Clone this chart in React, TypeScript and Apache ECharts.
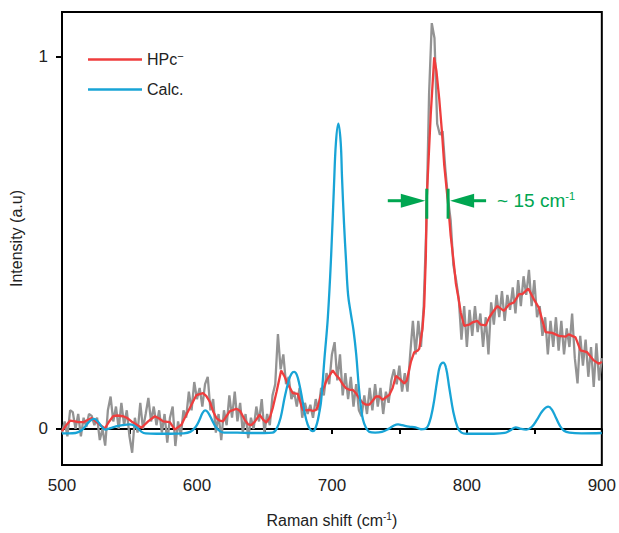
import React, { useEffect, useRef } from "react";
import * as echarts from "echarts";

const X_MIN = 500;
const X_MAX = 900;
const Y_MIN = -0.097;
const Y_MAX = 1.12;
const Y_TICKS = [0, 1];

// raw measured spectrum (gray)
const rawHPc: [number, number][] = [
  [500, -0.01], [502, 0.02], [504, -0.02], [506, 0.05], [508, 0.045], [510, 0.0], [512, 0.04], [514, -0.02],
  [516, 0.03], [518, 0.005], [520, 0.04], [522, 0.035], [524, 0.01], [526, 0.03], [528, -0.03], [530, 0.0],
  [532, -0.045], [534, 0.05], [536, 0.087], [538, 0.02], [540, 0.06], [542, 0.0], [544, 0.07], [546, 0.01],
  [548, 0.05], [550, -0.02], [552, -0.064], [554, 0.03], [556, -0.01], [558, 0.07], [560, 0.0], [562, 0.04],
  [564, 0.083], [566, 0.02], [568, 0.06], [570, 0.01], [572, 0.05], [574, -0.01], [576, 0.04], [578, -0.037],
  [580, 0.03], [582, 0.06], [584, -0.046], [586, 0.02], [588, -0.02], [590, 0.05], [592, 0.03], [594, 0.1],
  [596, 0.05], [598, 0.126], [600, 0.08], [602, 0.11], [604, 0.06], [606, 0.12], [608, 0.14], [610, 0.05],
  [612, 0.08], [614, -0.01], [616, 0.04], [618, -0.03], [620, 0.05], [622, 0.01], [624, 0.09], [626, 0.03],
  [628, 0.1], [630, 0.02], [632, 0.07], [634, -0.01], [636, 0.04], [638, -0.025], [640, 0.03], [642, 0.0],
  [644, 0.06], [646, 0.02], [648, 0.08], [650, -0.01], [652, 0.04], [654, 0.01], [656, 0.09], [658, 0.12],
  [660, 0.255], [662, 0.16], [664, 0.2], [666, 0.12], [668, 0.14], [670, 0.08], [672, 0.1], [674, 0.06],
  [676, 0.11], [678, 0.03], [680, 0.07], [682, 0.04], [684, 0.065], [686, 0.03], [688, 0.08], [690, 0.05],
  [692, 0.11], [694, 0.09], [696, 0.15], [698, 0.12], [700, 0.2], [702, 0.233], [704, 0.13], [706, 0.2],
  [708, 0.09], [710, 0.15], [712, 0.08], [714, 0.14], [716, 0.06], [718, 0.12], [720, 0.05], [722, 0.034],
  [724, 0.09], [726, 0.04], [728, 0.11], [730, 0.05], [732, 0.12], [734, 0.06], [736, 0.11], [738, 0.04],
  [740, 0.1], [742, 0.07], [744, 0.13], [746, 0.16], [748, 0.12], [750, 0.17], [752, 0.1], [754, 0.15],
  [756, 0.1], [758, 0.2], [760, 0.29], [762, 0.2], [764, 0.29], [766, 0.22], [768, 0.33], [770, 0.55],
  [772, 0.9], [774, 1.09], [776, 1.05], [778, 0.82], [780, 0.79], [782, 0.8], [784, 0.7], [786, 0.62],
  [788, 0.56], [790, 0.44], [792, 0.4], [794, 0.35], [796, 0.24], [798, 0.33], [800, 0.22], [802, 0.32],
  [804, 0.25], [806, 0.33], [808, 0.26], [810, 0.31], [812, 0.22], [814, 0.3], [816, 0.2], [818, 0.34],
  [820, 0.28], [822, 0.36], [824, 0.3], [826, 0.37], [828, 0.29], [830, 0.36], [832, 0.32], [834, 0.38],
  [836, 0.31], [838, 0.4], [840, 0.33], [842, 0.41], [844, 0.36], [846, 0.427], [848, 0.33], [850, 0.4],
  [852, 0.3], [854, 0.33], [856, 0.25], [858, 0.3], [860, 0.2], [862, 0.29], [864, 0.22], [866, 0.3],
  [868, 0.21], [870, 0.29], [872, 0.2], [874, 0.27], [876, 0.22], [878, 0.31], [880, 0.19], [882, 0.122],
  [884, 0.25], [886, 0.17], [888, 0.24], [890, 0.14], [892, 0.22], [894, 0.113], [896, 0.23], [898, 0.13],
  [900, 0.19],
];

// smoothed spectrum (red)
const smoothHPc: [number, number][] = [
  [500, -0.006], [503.4, 0.011], [506, 0.022], [509.6, 0.02], [512, 0.018], [515.8, 0.018], [519, 0.024],
  [522, 0.029], [525, 0.02], [528, 0.011], [531.8, 0.001], [535, 0.02], [537.9, 0.034], [541, 0.036],
  [545.3, 0.034], [548, 0.03], [551.5, 0.02], [555, 0.012], [558.9, 0.003], [563.8, 0.02], [568.8, 0.034],
  [572, 0.028], [574.9, 0.02], [579.9, 0.018], [583.6, -0.002], [588.5, 0.011], [591, 0.03], [594.7, 0.056],
  [599.6, 0.091], [604.5, 0.096], [607, 0.088], [609.5, 0.073], [612, 0.047], [614.4, 0.029], [617, 0.022],
  [619.3, 0.02], [622, 0.035], [624.2, 0.047], [629.2, 0.054], [632, 0.048], [635.3, 0.025], [638, 0.012],
  [640.3, 0.01], [643, 0.02], [646.4, 0.038], [649, 0.025], [651.3, 0.017], [654, 0.03], [656.3, 0.058],
  [659, 0.1], [662.4, 0.157], [665, 0.14], [667.4, 0.12], [671, 0.096], [674.7, 0.094], [678.4, 0.051],
  [681, 0.05], [683.4, 0.051], [686, 0.048], [688.3, 0.051], [690, 0.065], [692, 0.093], [696, 0.13],
  [700.6, 0.157], [703, 0.145], [705.5, 0.135], [708, 0.12], [710.5, 0.109], [713, 0.105], [715.4, 0.105],
  [718, 0.095], [720.3, 0.082], [722.8, 0.07], [725.3, 0.065], [727.7, 0.065], [730, 0.075], [732.6, 0.087],
  [735.1, 0.087], [737.6, 0.078], [740, 0.085], [742.5, 0.091], [745, 0.11], [747.4, 0.142], [750, 0.135],
  [753.6, 0.122], [755.5, 0.13], [758.5, 0.18], [761, 0.206], [763.5, 0.21], [764.7, 0.215], [767.1, 0.268],
  [768.4, 0.33], [769.6, 0.463], [770.3, 0.622], [773.2, 0.843], [775.8, 0.998], [777.5, 0.96], [779.5, 0.888],
  [781.5, 0.8], [783.2, 0.71], [786.1, 0.604], [788, 0.52], [790.6, 0.436], [791.8, 0.392], [794.3, 0.34],
  [795.5, 0.312], [798, 0.277], [801.7, 0.28], [804.1, 0.286], [807.8, 0.29], [810.3, 0.28], [814, 0.278],
  [816.5, 0.299], [818.9, 0.312], [822.6, 0.33], [827.5, 0.317], [831.2, 0.334], [834.9, 0.34], [838.6, 0.362],
  [841.1, 0.362], [845.5, 0.377], [849.7, 0.348], [853.4, 0.325], [858.3, 0.26], [863.2, 0.258], [868.2, 0.25],
  [873.1, 0.248], [875.5, 0.254], [880.5, 0.246], [884.2, 0.211], [889.1, 0.206], [894, 0.184], [897.8, 0.175],
  [900, 0.18],
];

// calculated spectrum (blue)
const calc: [number, number][] = [
  [500, -0.012], [505, -0.012], [510, -0.011], [514, -0.005], [518, 0.01], [521, 0.022], [523.7, 0.027],
  [526, 0.022], [529, 0.008], [532, -0.002], [536, 0.002], [540, 0.007], [545, 0.01], [550, 0.012],
  [553, 0.01], [556, 0.002], [559, -0.008], [562, -0.012], [570, -0.013], [580, -0.013], [590, -0.012],
  [595, -0.008], [599, 0.005], [602, 0.025], [604, 0.042], [606, 0.05], [608, 0.045], [611, 0.025],
  [614, 0.005], [617, -0.006], [620, -0.01], [630, -0.01], [640, -0.011], [650, -0.011], [656, -0.01],
  [659, 0.0], [662, 0.03], [665, 0.085], [668, 0.13], [670, 0.148], [672, 0.153], [674, 0.145], [676, 0.118],
  [678, 0.08], [680, 0.04], [682, 0.012], [684, -0.002], [685.6, -0.006], [687, -0.004], [689, 0.015],
  [690.7, 0.045], [692, 0.075], [694.5, 0.19], [697, 0.3], [699.4, 0.463], [701.5, 0.65], [703, 0.77],
  [704.8, 0.82], [706.5, 0.77], [707.5, 0.675], [709, 0.55], [710.5, 0.45], [712, 0.36], [714, 0.31],
  [716, 0.265], [718, 0.2], [720, 0.11], [721.6, 0.056], [723, 0.025], [725, 0.005], [727.7, -0.008],
  [732, -0.01], [737, -0.008], [742, 0.0], [746, 0.009], [749, 0.012], [752, 0.01], [757, 0.006],
  [762, 0.004], [766, -0.001], [769, 0.0], [772, 0.015], [775, 0.06], [778, 0.13], [780, 0.168],
  [782.4, 0.178], [784.5, 0.165], [787, 0.11], [790, 0.045], [793, 0.005], [796, -0.01], [800, -0.013],
  [810, -0.013], [820, -0.013], [828, -0.011], [832, -0.004], [836.2, 0.004], [840, 0.0], [844, -0.002],
  [848, 0.005], [852, 0.025], [856, 0.048], [860.3, 0.06], [863, 0.052], [866, 0.03], [869, 0.008],
  [872, -0.005], [876, -0.01], [885, -0.012], [900, -0.011],
];

// FWHM annotation (data units)
const FWHM_LEFT = 770.3;
const FWHM_RIGHT = 786.1;
const FWHM_LEVEL = 0.613;
const FWHM_TEXT = "~ 15 cm{s|-1}";

const FONT = "'Liberation Sans', Arial, Helvetica, sans-serif";
const GREEN = "#00a651";

export default function App() {
  const ref = useRef<HTMLDivElement>(null);
  useEffect(() => {
    document.body.style.margin = "0";
    const chart = echarts.init(ref.current!, null, { renderer: "svg" });
    chart.setOption({
      animation: false,
      textStyle: { fontFamily: FONT },
      grid: { left: 62, right: 16, top: 12, bottom: 62, show: true, borderColor: "#000", borderWidth: 2, backgroundColor: "transparent" },
      legend: {
        data: ["HPc", "Calc."],
        orient: "vertical",
        left: 83,
        top: 45,
        icon: "rect",
        itemWidth: 54,
        itemHeight: 2.5,
        itemGap: 14,
        formatter: (n: string) => (n === "HPc" ? "HPc{s|−}" : n),
        textStyle: {
          fontSize: 16,
          color: "#222",
          fontFamily: FONT,
          padding: [0, 0, 0, 0],
          rich: { s: { fontSize: 11, verticalAlign: "top", color: "#222", fontFamily: FONT, padding: [0, 0, 8, 0] } },
        },
      },
      xAxis: {
        type: "value",
        min: X_MIN,
        max: X_MAX,
        interval: 50,
        axisLine: { show: true, lineStyle: { color: "#000", width: 2 } },
        axisTick: { show: true, length: 5, lineStyle: { color: "#000", width: 2 } },
        axisLabel: {
          formatter: (v: number) => (v % 100 === 0 ? String(v) : ""),
          fontSize: 17,
          color: "#222",
          margin: 12,
          fontFamily: FONT,
        },
        splitLine: { show: false },
        name: "Raman shift (cm{s|-1})",
        nameLocation: "middle",
        nameGap: 46,
        nameTextStyle: {
          fontSize: 16,
          color: "#222",
          fontFamily: FONT,
          rich: { s: { fontSize: 10, verticalAlign: "top", padding: [0, 0, 8, 0], color: "#222", fontFamily: FONT } },
        },
      },
      yAxis: {
        type: "value",
        min: Y_MIN,
        max: Y_MAX,
        axisLine: { show: true, lineStyle: { color: "#000", width: 2 } },
        axisTick: { show: true, length: 6, customValues: Y_TICKS, lineStyle: { color: "#000", width: 2 } },
        axisLabel: { customValues: Y_TICKS, fontSize: 17, color: "#222", margin: 14, fontFamily: FONT },
        splitLine: { show: false },
        name: "Intensity (a.u)",
        nameLocation: "middle",
        nameGap: 38,
        nameTextStyle: { fontSize: 16, color: "#222", fontFamily: FONT },
      },
      series: [
        {
          name: "raw",
          type: "line",
          data: rawHPc,
          showSymbol: false,
          silent: true,
          lineStyle: { color: "#939393", width: 2.3 },
          itemStyle: { color: "#939393" },
          z: 1,
        },
        {
          name: "HPc",
          type: "line",
          data: smoothHPc,
          showSymbol: false,
          lineStyle: { color: "#ef3d3d", width: 2.3 },
          itemStyle: { color: "#ef3d3d" },
          z: 2,
        },
        {
          name: "Calc.",
          type: "line",
          data: calc,
          smooth: 0.4,
          showSymbol: false,
          lineStyle: { color: "#18a4d6", width: 2.3 },
          itemStyle: { color: "#18a4d6" },
          z: 3,
        },
      ],
    });

    const pL = chart.convertToPixel({ gridIndex: 0 }, [FWHM_LEFT, FWHM_LEVEL]) as number[];
    const pR = chart.convertToPixel({ gridIndex: 0 }, [FWHM_RIGHT, FWHM_LEVEL]) as number[];
    const y = pL[1];
    const xl = pL[0];
    const xr = pR[0];
    chart.setOption({
      graphic: [
        { type: "rect", shape: { x: xl - 1.5, y: y - 12, width: 3, height: 30 }, style: { fill: GREEN }, z: 100 },
        { type: "rect", shape: { x: xr - 1.5, y: y - 12, width: 3, height: 30 }, style: { fill: GREEN }, z: 100 },
        { type: "line", shape: { x1: xl - 39, y1: y, x2: xl - 24, y2: y }, style: { stroke: GREEN, lineWidth: 3 }, z: 100 },
        { type: "polygon", shape: { points: [[xl - 26, y - 7], [xl - 26, y + 7], [xl - 1.5, y]] }, style: { fill: GREEN }, z: 100 },
        { type: "polygon", shape: { points: [[xr + 2, y], [xr + 26, y - 7], [xr + 26, y + 7]] }, style: { fill: GREEN }, z: 100 },
        { type: "line", shape: { x1: xr + 24, y1: y, x2: xr + 38, y2: y }, style: { stroke: GREEN, lineWidth: 3 }, z: 100 },
        {
          type: "text",
          x: xr + 49,
          y: y,
          z: 100,
          style: {
            text: FWHM_TEXT,
            fill: GREEN,
            fontSize: 19,
            fontFamily: FONT,
            verticalAlign: "middle",
            rich: { s: { fontSize: 11, verticalAlign: "top", padding: [0, 0, 10, 0], fill: GREEN, fontFamily: FONT } },
          },
        },
      ],
    });
    return () => chart.dispose();
  }, []);
  return <div ref={ref} style={{ width: 619, height: 533 }} />;
}
